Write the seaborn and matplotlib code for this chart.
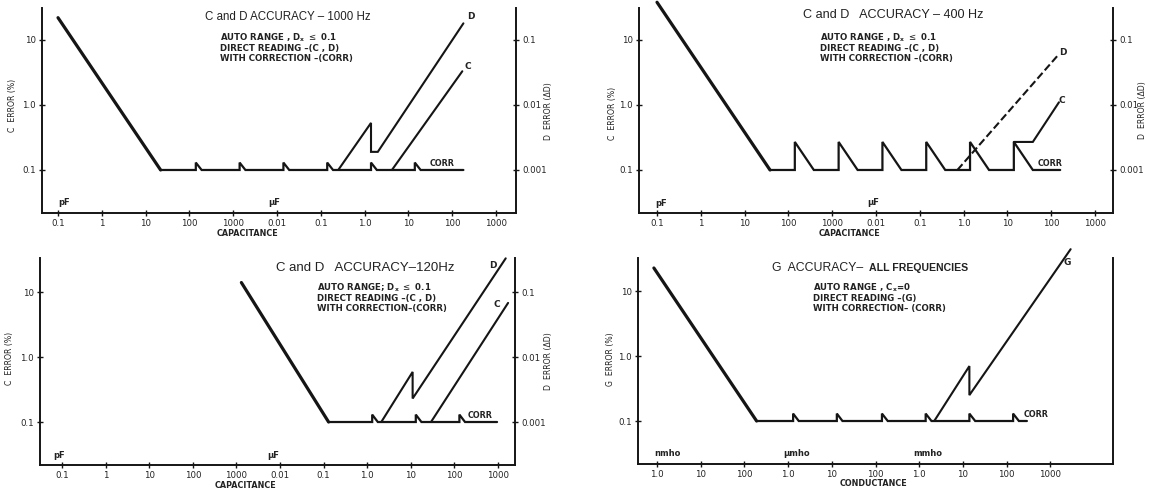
import matplotlib
matplotlib.use("Agg")
import matplotlib.pyplot as plt
from matplotlib.ticker import NullLocator, FixedLocator
import seaborn as sns

sns.set_theme(style="ticks")
plt.rcParams["font.family"] = ["DejaVu Sans"]
plt.rcParams["mathtext.fontset"] = "dejavusans"

W, H = 1150, 492
INK = "#151515"
TXT = "#222222"
TITLE_FONT = ["Liberation Sans", "DejaVu Sans"]

# ---------------- tick labelling ----------------
cap_ticks = [1e-1, 1, 1e1, 1e2, 1e3, 1e4, 1e5, 1e6, 1e7, 1e8, 1e9]          # pF
cap_tick_labels = ["0.1", "1", "10", "100", "1000", "0.01", "0.1", "1.0", "10", "100", "1000"]
cond_ticks = [1, 1e1, 1e2, 1e3, 1e4, 1e5, 1e6, 1e7, 1e8, 1e9]               # nmho
cond_tick_labels = ["1.0", "10", "100", "1.0", "10", "100", "1.0", "10", "100", "1000"]
err_ticks = [0.1, 1, 10]
err_tick_labels = ["0.1", "1.0", "10"]
d_ticks = [0.001, 0.01, 0.1]
d_tick_labels = ["0.001", "0.01", "0.1"]

# ---------------- C and D accuracy, 1000 Hz (x: pF, y: %) ----------------
khz_base_x = [0.1, 22]
khz_base_y = [22, 0.1]
khz_corr_x = [22, 140, 140, 190, 1.4e3, 1.4e3, 1.9e3, 1.4e4, 1.4e4, 1.9e4,
              1.4e5, 1.4e5, 1.9e5, 1.4e6, 1.4e6, 1.9e6, 1.4e7, 1.4e7, 1.9e7, 1.8e8]
khz_corr_y = [0.1, 0.1, 0.13, 0.1, 0.1, 0.13, 0.1, 0.1, 0.13, 0.1,
              0.1, 0.13, 0.1, 0.1, 0.13, 0.1, 0.1, 0.13, 0.1, 0.1]
khz_d_x = [2.5e5, 1.4e6, 1.4e6, 2.0e6, 1.8e8]
khz_d_y = [0.1, 0.53, 0.19, 0.19, 18]
khz_c_x = [4.2e6, 1.7e8]
khz_c_y = [0.1, 3.3]

# ---------------- C and D accuracy, 400 Hz ----------------
hz400_base_x = [0.1, 38]
hz400_base_y = [38, 0.1]
hz400_corr_x = [38, 140, 140, 380, 1.4e3, 1.4e3, 3.8e3, 1.4e4, 1.4e4, 3.8e4,
                1.4e5, 1.4e5, 3.8e5, 1.4e6, 1.4e6, 3.8e6, 1.4e7, 1.4e7, 3.8e7, 1.6e8]
hz400_corr_y = [0.1, 0.1, 0.27, 0.1, 0.1, 0.27, 0.1, 0.1, 0.27, 0.1,
                0.1, 0.27, 0.1, 0.1, 0.27, 0.1, 0.1, 0.27, 0.1, 0.1]
hz400_c_x = [1.4e7, 3.8e7, 1.5e8]
hz400_c_y = [0.27, 0.27, 1.1]
hz400_d_x = [7.2e5, 1.45e8]
hz400_d_y = [0.1, 5.9]

# ---------------- C and D accuracy, 120 Hz ----------------
hz120_base_x = [1.3e3, 1.3e5]
hz120_base_y = [14, 0.1]
hz120_corr_x = [1.3e5, 1.3e6, 1.3e6, 1.75e6, 1.3e7, 1.3e7, 1.75e7, 1.3e8, 1.3e8, 1.75e8, 9.5e8]
hz120_corr_y = [0.1, 0.1, 0.13, 0.1, 0.1, 0.13, 0.1, 0.1, 0.13, 0.1, 0.1]
hz120_d_x = [2.1e6, 1.1e7, 1.1e7, 1.5e9]
hz120_d_y = [0.1, 0.59, 0.23, 33]
hz120_c_x = [2.9e7, 1.7e9]
hz120_c_y = [0.1, 6.8]

# ---------------- G accuracy, all frequencies (x: nmho) ----------------
g_base_x = [0.85, 190]
g_base_y = [22.6, 0.1]
g_corr_x = [190, 1.3e3, 1.3e3, 1.75e3, 1.3e4, 1.3e4, 1.75e4, 1.4e5, 1.4e5, 1.9e5,
            1.4e6, 1.4e6, 1.9e6, 1.4e7, 1.4e7, 1.9e7, 1.4e8, 1.4e8, 1.9e8, 2.9e8]
g_corr_y = [0.1, 0.1, 0.13, 0.1, 0.1, 0.13, 0.1, 0.1, 0.13, 0.1,
            0.1, 0.13, 0.1, 0.1, 0.13, 0.1, 0.1, 0.13, 0.1, 0.1]
g_direct_x = [2.2e6, 1.4e7, 1.4e7, 2.9e9]
g_direct_y = [0.1, 0.7, 0.25, 44]

fig = plt.figure(figsize=(W / 100, H / 100), dpi=100)
fig.patch.set_facecolor("white")


def px_axes(l, t, r, b):
    return fig.add_axes([l / W, 1 - b / H, (r - l) / W, (b - t) / H])


def ptext(x, y, s, **kw):
    kw.setdefault("color", TXT)
    kw.setdefault("va", "center")
    fig.text(x / W, 1 - y / H, s, **kw)


def style(ax, xlim, ylim, xt, xtl):
    ax.set_xscale("log")
    ax.set_yscale("log")
    ax.set_xlim(*xlim)
    ax.set_ylim(*ylim)
    ax.xaxis.set_major_locator(FixedLocator(xt))
    ax.set_xticklabels(xtl)
    ax.yaxis.set_major_locator(FixedLocator(err_ticks))
    ax.set_yticklabels(err_tick_labels)
    ax.xaxis.set_minor_locator(NullLocator())
    ax.yaxis.set_minor_locator(NullLocator())
    ax.set_xlabel("")
    ax.set_ylabel("")
    ax.set_facecolor("none")
    ax.spines["top"].set_visible(False)
    for s in ("left", "bottom", "right"):
        ax.spines[s].set_linewidth(1.4)
        ax.spines[s].set_color(INK)
    ax.tick_params(axis="both", direction="inout", length=5, width=1.0,
                   labelsize=6.2, color=INK, labelcolor=TXT, pad=2)


def twin_d(ax, ylim):
    tw = ax.twinx()
    tw.set_yscale("log")
    tw.set_ylim(ylim[0] / 100, ylim[1] / 100)
    tw.yaxis.set_major_locator(FixedLocator(d_ticks))
    tw.set_yticklabels(d_tick_labels)
    tw.yaxis.set_minor_locator(NullLocator())
    for s in ("left", "top", "bottom"):
        tw.spines[s].set_visible(False)
    tw.spines["right"].set_linewidth(1.4)
    tw.spines["right"].set_color(INK)
    ax.spines["right"].set_visible(False)
    tw.tick_params(axis="y", direction="inout", length=5, width=1.0,
                   labelsize=6.2, color=INK, labelcolor=TXT, pad=2)
    return tw


def curve(ax, xs, ys, lw=1.6, ls="-"):
    sns.lineplot(x=xs, y=ys, ax=ax, sort=False, estimator=None, color=INK,
                 linewidth=lw, linestyle=ls, clip_on=False, legend=False,
                 solid_joinstyle="miter")


def label(ax, x, y, s, ha="center", size=6.5):
    ax.text(x, y, s, ha=ha, va="center", fontsize=size, color=TXT, fontweight="bold")


def notes(x, y0, lines, step=10.5):
    for i, s in enumerate(lines):
        ptext(x, y0 + i * step, s, ha="left", fontsize=6.2, fontweight="bold")


# ================= 1000 Hz =================
ax1 = px_axes(42, 8, 516, 213)
ax1.set_xscale("log"); ax1.set_yscale("log")
curve(ax1, khz_base_x, khz_base_y, lw=2.3)
curve(ax1, khz_corr_x, khz_corr_y, lw=1.6)
curve(ax1, khz_d_x, khz_d_y, lw=1.5)
curve(ax1, khz_c_x, khz_c_y, lw=1.5)
ylim_top = (0.0218, 31)
style(ax1, (0.0431, 2.86e9), ylim_top, cap_ticks, cap_tick_labels)
twin_d(ax1, ylim_top)
label(ax1, 2.7e8, 22.6, "D")
label(ax1, 2.3e8, 3.85, "C")
label(ax1, 3.1e7, 0.124, "CORR", ha="left", size=5.8)

# ================= 400 Hz =================
ax2 = px_axes(639, 8, 1113, 213)
ax2.set_xscale("log"); ax2.set_yscale("log")
curve(ax2, hz400_base_x, hz400_base_y, lw=2.3)
curve(ax2, hz400_corr_x, hz400_corr_y, lw=1.6)
curve(ax2, hz400_c_x, hz400_c_y, lw=1.5)
curve(ax2, hz400_d_x, hz400_d_y, lw=1.5, ls="--")
style(ax2, (0.0388, 2.57e9), ylim_top, cap_ticks, cap_tick_labels)
twin_d(ax2, ylim_top)
label(ax2, 1.8e8, 6.5, "D")
label(ax2, 1.7e8, 1.19, "C")
label(ax2, 4.8e7, 0.124, "CORR", ha="left", size=5.8)

# ================= 120 Hz =================
ax3 = px_axes(40, 258, 515, 465)
ax3.set_xscale("log"); ax3.set_yscale("log")
curve(ax3, hz120_base_x, hz120_base_y, lw=2.3)
curve(ax3, hz120_corr_x, hz120_corr_y, lw=1.6)
curve(ax3, hz120_d_x, hz120_d_y, lw=1.5)
curve(ax3, hz120_c_x, hz120_c_y, lw=1.5)
ylim3 = (0.0218, 33.4)
style(ax3, (0.0313, 2.45e9), ylim3, cap_ticks, cap_tick_labels)
twin_d(ax3, ylim3)
label(ax3, 7.7e8, 26, "D")
label(ax3, 9.3e8, 6.5, "C")
label(ax3, 2.0e8, 0.124, "CORR", ha="left", size=5.8)

# ================= G, all frequencies =================
ax4 = px_axes(638, 258, 1113, 464)
ax4.set_xscale("log"); ax4.set_yscale("log")
curve(ax4, g_base_x, g_base_y, lw=2.3)
curve(ax4, g_corr_x, g_corr_y, lw=1.6)
curve(ax4, g_direct_x, g_direct_y, lw=1.5)
style(ax4, (0.368, 2.7e10), (0.0218, 32.2), cond_ticks, cond_tick_labels)
ax4.tick_params(axis="y", right=False)
label(ax4, 2.4e9, 27, "G")
label(ax4, 2.4e8, 0.124, "CORR", ha="left", size=5.8)

# ---------------- titles and notes ----------------
ptext(205, 17, "C and D ACCURACY \u2013 1000 Hz", ha="left", fontsize=8.3, family=TITLE_FONT)
notes(220, 38, [r"AUTO RANGE , D$_\mathbf{x}$ $\leq$ 0.1",
                "DIRECT READING \u2013(C , D)",
                "WITH CORRECTION \u2013(CORR)"])

ptext(803, 15, "C and D   ACCURACY \u2013 400 Hz", ha="left", fontsize=9.1, family=TITLE_FONT)
notes(820, 38, [r"AUTO RANGE , D$_\mathbf{x}$ $\leq$ 0.1",
                "DIRECT READING \u2013(C , D)",
                "WITH CORRECTION \u2013(CORR)"])

ptext(276, 268, "C and D   ACCURACY\u2013120Hz", ha="left", fontsize=9.5, family=TITLE_FONT)
notes(317, 288, [r"AUTO RANGE; D$_\mathbf{x}$ $\leq$ 0.1",
                 "DIRECT READING \u2013(C , D)",
                 "WITH CORRECTION\u2013(CORR)"])

ptext(772, 268, "G  ACCURACY\u2013", ha="left", fontsize=8.8, family=TITLE_FONT)
ptext(968, 268, "ALL FREQUENCIES", ha="right", fontsize=7.6, family=TITLE_FONT, fontweight="bold")
notes(813, 288, [r"AUTO RANGE , C$_\mathbf{x}$=0",
                 "DIRECT READING \u2013(G)",
                 "WITH CORRECTION\u2013 (CORR)"])

# ---------------- axis names ----------------
for x, y, s in [(12, 105, "C  ERROR (%)"), (612, 113, "C  ERROR (%)"),
                (10, 358, "C  ERROR (%)"), (610, 359, "G  ERROR (%)"),
                (548, 111, "D  ERROR (\u0394D)"), (1142, 110, "D  ERROR (\u0394D)"),
                (549, 361, "D  ERROR (\u0394D)")]:
    ptext(x, y, s, ha="center", rotation=90, fontsize=5.6)

ptext(247, 233, "CAPACITANCE", ha="center", fontsize=5.8, fontweight="bold")
ptext(849, 233, "CAPACITANCE", ha="center", fontsize=5.8, fontweight="bold")
ptext(245, 485, "CAPACITANCE", ha="center", fontsize=5.8, fontweight="bold")
ptext(873, 484, "CONDUCTANCE", ha="center", fontsize=5.8, fontweight="bold")

# unit markers along the axes
for x, y, s in [(58, 202, "pF"), (268, 202, "\u03bcF"), (655, 203, "pF"),
                (867, 202, "\u03bcF"), (53, 455, "pF"), (267, 455, "\u03bcF"),
                (654, 454, "nmho"), (783, 454, "\u03bcmho"), (913, 454, "mmho")]:
    ptext(x, y, s, ha="left", fontsize=6, fontweight="bold")

fig.savefig("out.png", dpi=100, facecolor="white")
